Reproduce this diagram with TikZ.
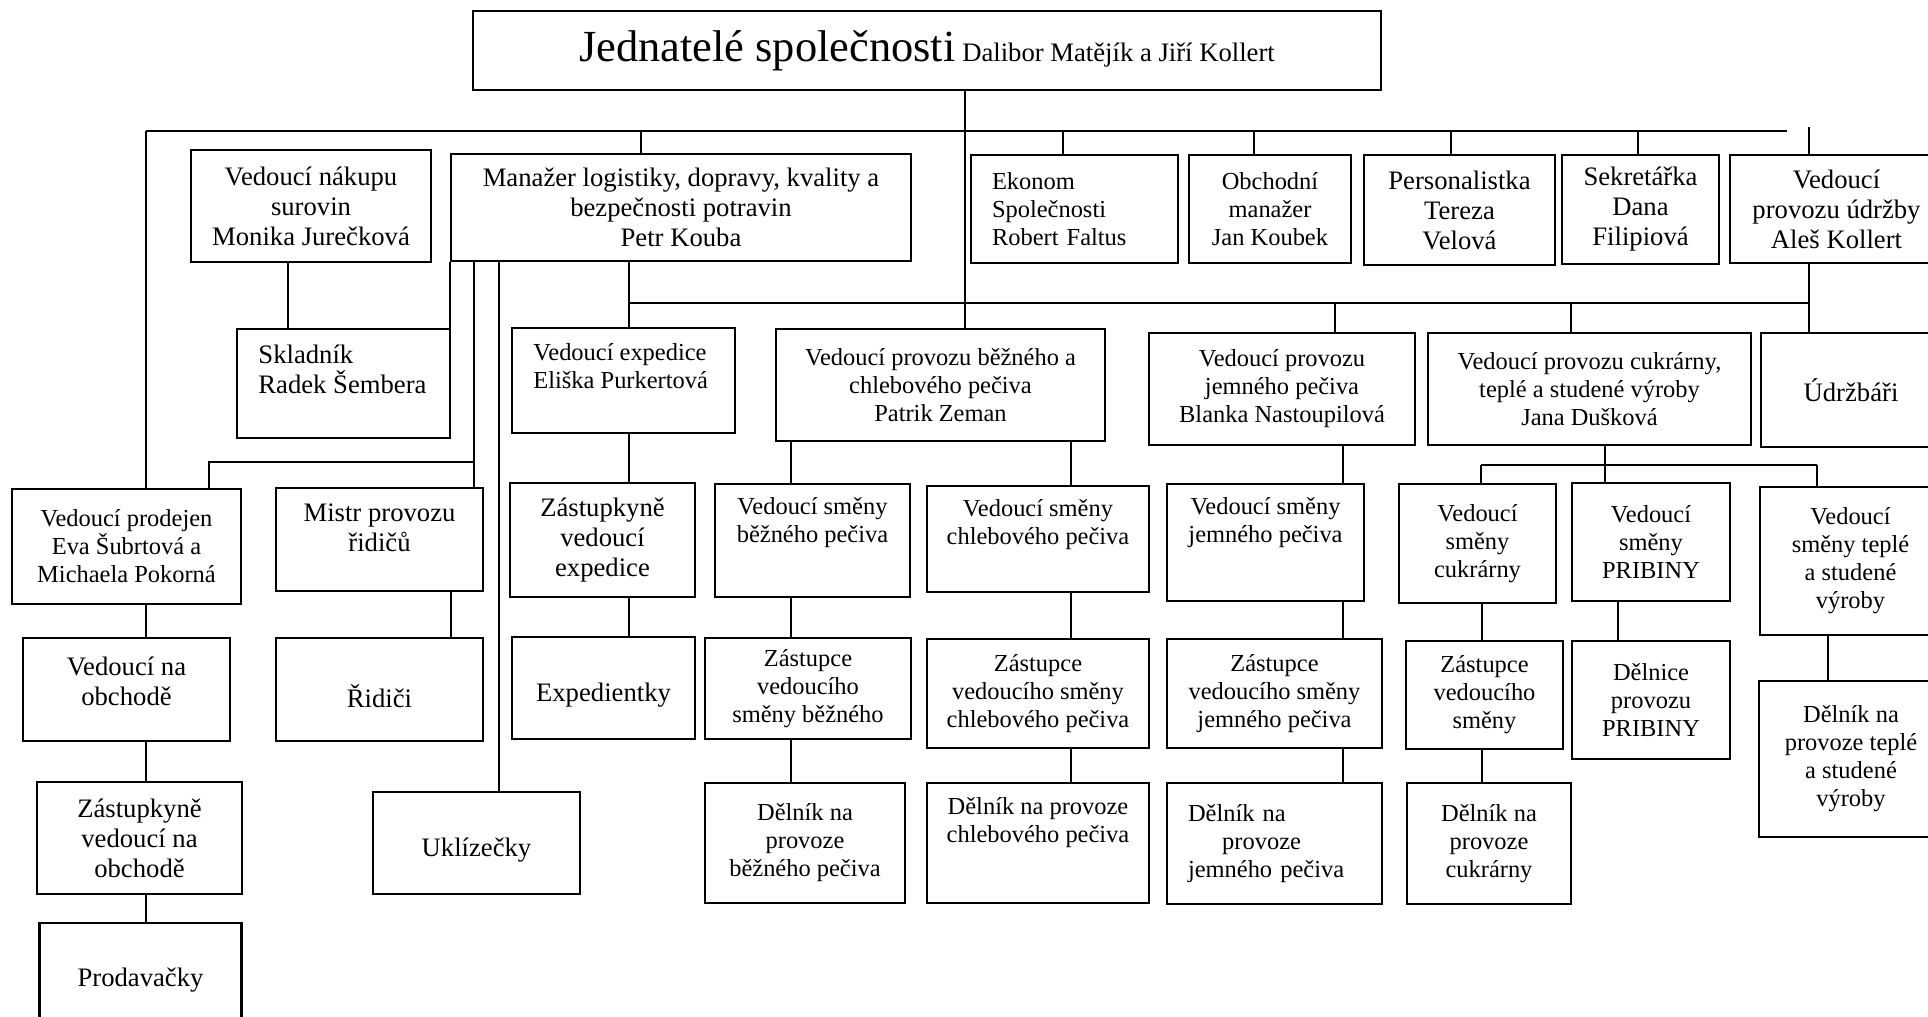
\documentclass[tikz,border=0pt]{standalone}
\usepackage{fontspec}
\setmainfont{Liberation Serif}

\tikzset{
  box/.style={draw,line width=1.1pt,inner sep=0pt,align=center},
  sz/.style 2 args={minimum width=#1*0.45pt,minimum height=#2*0.45pt},
  big/.style={font=\fontsize{12}{13.5}\selectfont},
  small/.style={font=\fontsize{11}{12.6}\selectfont},
  lbl/.style={inner sep=0pt},
  link/.style={line width=0.8pt}
}

\begin{document}
\begin{tikzpicture}[x=0.45pt,y=-0.45pt]
\path[use as bounding box] (0,0) rectangle (1928,1016);
\clip (0,0) rectangle (1928,1016);
% top
\node[box,big,sz={908}{79}] (top) at (927,50.5) {{\fontsize{20}{24}\selectfont Jednatelé společnosti} Dalibor Matějík a Jiří Kollert};
% first row
\node[box,big,sz={240}{112}] (nak) at (311,206) {Vedoucí nákupu\\surovin\\Monika Jurečková};
\node[box,big,sz={460}{107}] (man) at (681,207.5) {Manažer logistiky, dopravy, kvality a\\bezpečnosti potravin\\Petr Kouba};
\node[box,small,sz={207}{108},align=left,text width=74.25pt] (eko) at (1074.5,209) {Ekonom\\Společnosti\\Robert Faltus};
\node[box,small,sz={162}{108}] (obch) at (1270,209) {Obchodní\\manažer\\Jan Koubek};
\node[box,big,sz={191}{110}] (pers) at (1459.5,210) {Personalistka\\Tereza\\Velová};
\node[box,big,sz={157}{109}] (sekr) at (1640.5,209.5) {Sekretářka\\Dana\\Filipiová};
\node[box,big,sz={213}{108}] (udr) at (1836.5,209) {Vedoucí\\provozu údržby\\Aleš Kollert};
% second row
\node[box,sz={213}{109}] (skl) at (343.5,383.5) {};
\node[lbl,big,align=left,anchor=west] (skl-t) at (258,369) {Skladník\\Radek Šembera};
\node[box,sz={223}{105}] (exp) at (623.5,380.5) {};
\node[lbl,small,align=left,anchor=west] (exp-t) at (533,366) {Vedoucí expedice\\Eliška Purkertová};
\node[box,small,sz={329}{112}] (vbp) at (940.5,385) {Vedoucí provozu běžného a\\chlebového pečiva\\Patrik Zeman};
\node[box,small,sz={266}{112}] (vjp) at (1282,389) {Vedoucí provozu\\jemného pečiva\\Blanka Nastoupilová};
\node[box,small,sz={323}{112}] (vcu) at (1589.5,389) {Vedoucí provozu cukrárny,\\teplé a studené výroby\\Jana Dušková};
\node[box,big,sz={180}{114}] (udrz) at (1851,390) {Údržbáři};
% third row
\node[box,small,sz={229}{115}] (prod) at (126.5,546.5) {Vedoucí prodejen\\Eva Šubrtová a\\Michaela Pokorná};
\node[box,sz={207}{103}] (mistr) at (379.5,539.5) {};
\node[lbl,big,align=center] (mistr-t) at (379.5,528) {Mistr provozu\\řidičů};
\node[box,big,sz={185}{114}] (zexp) at (602.5,540) {Zástupkyně\\vedoucí\\expedice};
\node[box,sz={195}{113}] (vsb) at (812.5,540.5) {};
\node[lbl,small,align=center] (vsb-t) at (812.5,523) {Vedoucí směny\\běžného pečiva};
\node[box,sz={222}{106}] (vsch) at (1038,539) {};
\node[lbl,small,align=center] (vsch-t) at (1038,525) {Vedoucí směny\\chlebového pečiva};
\node[box,sz={197}{117}] (vsj) at (1265.5,542.5) {};
\node[lbl,small,align=center] (vsj-t) at (1265.5,523) {Vedoucí směny\\jemného pečiva};
\node[box,small,sz={157}{119}] (vscu) at (1477.5,543.5) {Vedoucí\\směny\\cukrárny};
\node[box,small,sz={158}{118}] (vspr) at (1651,542) {Vedoucí\\směny\\PRIBINY};
\node[box,small,sz={181}{148}] (vst) at (1850.5,561) {Vedoucí\\směny teplé\\a studené\\výroby};
% fourth row
\node[box,sz={207}{103}] (vno) at (126.5,689.5) {};
\node[lbl,big,align=center] (vno-t) at (126.5,681) {Vedoucí na\\obchodě};
\node[box,sz={207}{103}] (ridici) at (379.5,689.5) {};
\node[lbl,big] (ridici-t) at (379.5,696) {Řidiči};
\node[box,sz={183}{102}] (expd) at (603.5,688) {};
\node[lbl,big] (expd-t) at (603.5,695) {Expedientky};
\node[box,small,sz={206}{101}] (zvsb) at (808,688.5) {Zástupce\\vedoucího\\směny běžného};
\node[box,small,sz={222}{109}] (zch) at (1038,693.5) {Zástupce\\vedoucího směny\\chlebového pečiva};
\node[box,small,sz={215}{109}] (zj) at (1274.5,693.5) {Zástupce\\vedoucího směny\\jemného pečiva};
\node[box,small,sz={157}{108}] (zcu) at (1484.5,695) {Zástupce\\vedoucího\\směny};
\node[box,small,sz={158}{118}] (dpr) at (1651,700) {Dělnice\\provozu\\PRIBINY};
\node[box,small,sz={184}{156}] (dst) at (1851,759) {Dělník na\\provoze teplé\\a studené\\výroby};
% fifth row
\node[box,big,sz={205}{112}] (zvno) at (139.5,838) {Zástupkyně\\vedoucí na\\obchodě};
\node[box,sz={207}{102}] (ukl) at (476.5,843) {};
\node[lbl,big] (ukl-t) at (476.5,850) {Uklízečky};
\node[box,small,sz={200}{120}] (dvb) at (805,843) {Dělník na\\provoze\\běžného pečiva};
\node[box,sz={222}{120}] (dch) at (1038,843) {};
\node[lbl,small,align=center] (dch-t) at (1038,822.5) {Dělník na provoze\\chlebového pečiva};
\node[box,small,sz={215}{121},align=left,text width=77.85pt] (dj) at (1274.5,843.5) {Dělník na\\\hspace*{1.4em}provoze\\jemného pečiva};
\node[box,small,sz={164}{121}] (dcu) at (1489,843.5) {Dělník na\\provoze\\cukrárny};
\node[box,big,sz={202}{114}] (prodav) at (140.5,980) {Prodavačky};

% main bus
\coordinate (b1w) at (146,131);
\coordinate (b1e) at (1787,131);
\coordinate (trk) at (965,131);
\coordinate (b1m) at (641,131);
\coordinate (b1k) at (1063,131);
\coordinate (b1o) at (1254,131);
\coordinate (b1p) at (1451,131);
\coordinate (b1s) at (1638,131);
\coordinate (b1u) at (1809,127);
\draw[link] (b1w) -- (b1e);
\draw[link] (trk |- top.south) -- (trk |- vbp.north);
\draw[link] (b1w) -- (b1w |- prod.north);
\draw[link] (b1m) -- (b1m |- man.north);
\draw[link] (b1k) -- (b1k |- eko.north);
\draw[link] (b1o) -- (b1o |- obch.north);
\draw[link] (b1p) -- (b1p |- pers.north);
\draw[link] (b1s) -- (b1s |- sekr.north);
\draw[link] (b1u) -- (b1u |- udr.north);
\draw[link] (b1u |- udr.south) -- (b1u |- udrz.north);
% production bus
\coordinate (b2w) at (629,303);
\coordinate (b2j) at (1335,303);
\coordinate (b2c) at (1571,303);
\draw[link] (b2w) -- (b1u |- b2w);
\draw[link] (b2w |- man.south) -- (b2w |- exp.north);
\draw[link] (b2j) -- (b2j |- vjp.north);
\draw[link] (b2c) -- (b2c |- vcu.north);
\draw[link] (b2w |- exp.south) -- (b2w |- zexp.north);
\draw[link] (b2w |- zexp.south) -- (b2w |- expd.north);
% logistics
\coordinate (lk) at (288,0);
\coordinate (lm) at (474,462);
\coordinate (lp) at (209,462);
\coordinate (lu) at (499,0);
\coordinate (lr) at (451,0);
\draw[link] (lk |- nak.south) -- (lk |- skl.north);
\draw[link] (man.south west) -- (man.south west |- skl.north);
\draw[link] (lm |- man.south) -- (lm |- mistr.north);
\draw[link] (lm) -- (lp) -- (lp |- prod.north);
\draw[link] (lu |- man.south) -- (lu |- ukl.north);
\draw[link] (lr |- mistr.south) -- (lr |- ridici.north);
% shops
\draw[link] (b1w |- prod.south) -- (b1w |- vno.north);
\draw[link] (b1w |- vno.south) -- (b1w |- zvno.north);
\draw[link] (b1w |- zvno.south) -- (b1w |- prodav.north);
% bakery
\coordinate (cb) at (791,0);
\coordinate (cc) at (1071,0);
\coordinate (cj) at (1343,0);
\draw[link] (cb |- vbp.south) -- (cb |- vsb.north);
\draw[link] (cb |- vsb.south) -- (cb |- zvsb.north);
\draw[link] (cb |- zvsb.south) -- (cb |- dvb.north);
\draw[link] (cc |- vbp.south) -- (cc |- vsch.north);
\draw[link] (cc |- vsch.south) -- (cc |- zch.north);
\draw[link] (cc |- zch.south) -- (cc |- dch.north);
\draw[link] (cj |- vjp.south) -- (cj |- vsj.north);
\draw[link] (cj |- vsj.south) -- (cj |- zj.north);
\draw[link] (cj |- zj.south) -- (cj |- dj.north);
% confectionery
\coordinate (b3w) at (1481,465);
\coordinate (b3e) at (1817,465);
\coordinate (cv) at (1605,0);
\coordinate (ck) at (1482,0);
\coordinate (cp) at (1618,0);
\coordinate (ct) at (1828,0);
\draw[link] (b3w) -- (b3e);
\draw[link] (cv |- vcu.south) -- (cv |- vspr.north);
\draw[link] (b3w) -- (b3w |- vscu.north);
\draw[link] (b3e) -- (b3e |- vst.north);
\draw[link] (ck |- vscu.south) -- (ck |- zcu.north);
\draw[link] (ck |- zcu.south) -- (ck |- dcu.north);
\draw[link] (cp |- vspr.south) -- (cp |- dpr.north);
\draw[link] (ct |- vst.south) -- (ct |- dst.north);
\end{tikzpicture}
\end{document}
